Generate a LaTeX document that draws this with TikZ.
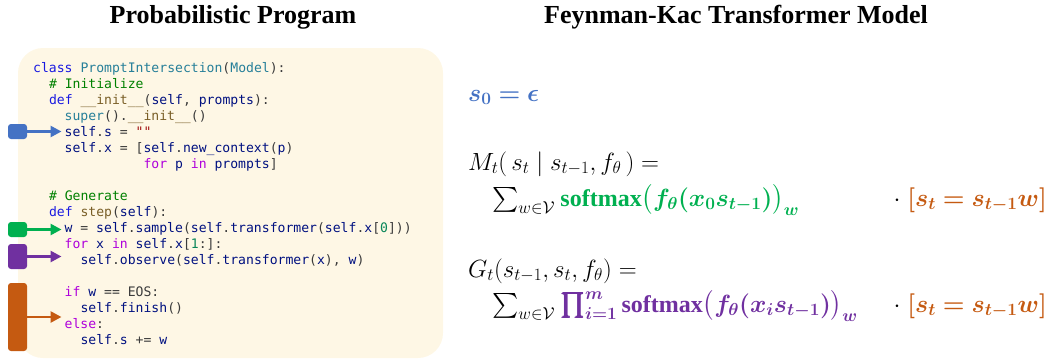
\documentclass[tikz,border=0pt]{standalone}
\usepackage{amsmath}
\usepackage{bm}
\usepackage{fontspec}
\setmainfont{Liberation Serif}
\setmonofont{DejaVu Sans Mono}
\usetikzlibrary{arrows.meta}

\definecolor{codebg}{RGB}{254,247,229}
\definecolor{punct}{RGB}{59,59,59}
\definecolor{kwblue}{RGB}{25,25,225}
\definecolor{clsteal}{RGB}{38,127,153}
\definecolor{cmtgreen}{RGB}{0,128,0}
\definecolor{fnbrown}{RGB}{121,94,38}
\definecolor{varnavy}{RGB}{0,16,128}
\definecolor{strred}{RGB}{163,21,21}
\definecolor{ctlmag}{RGB}{175,0,219}
\definecolor{numgreen}{RGB}{9,134,88}
\definecolor{mblue}{RGB}{68,114,196}
\definecolor{mgreen}{RGB}{0,176,80}
\definecolor{mpurple}{RGB}{112,48,160}
\definecolor{morange}{RGB}{197,90,17}

\newcommand{\pkw}[1]{\textcolor{kwblue}{#1}}
\newcommand{\pcls}[1]{\textcolor{clsteal}{#1}}
\newcommand{\pcmt}[1]{\textcolor{cmtgreen}{#1}}
\newcommand{\pfn}[1]{\textcolor{fnbrown}{#1}}
\newcommand{\pvar}[1]{\textcolor{varnavy}{#1}}
\newcommand{\pstr}[1]{\textcolor{strred}{#1}}
\newcommand{\pctl}[1]{\textcolor{ctlmag}{#1}}
\newcommand{\pnum}[1]{\textcolor{numgreen}{#1}}

\begin{document}
\begin{tikzpicture}
  [
    x=1pt, y=-1pt,
    title/.style =
      {anchor=base, font=\fontsize{26}{30}\selectfont\bfseries},
    code/.style =
      {anchor=base west, inner sep=0pt, text=punct, font=\fontsize{13.1}{16}\selectfont\ttfamily},
    marker/.style =
      {rectangle, rounded corners=3pt, minimum width=19pt, inner sep=0pt},
    marrow/.style =
      {-{Triangle[length=11pt, width=11pt]}, line width=2.6pt, shorten >=3pt},
    formula/.style =
      {anchor=base west, inner sep=0pt, font=\fontsize{24}{28}\selectfont}
  ]

\useasboundingbox (0,0) rectangle (1052,360);

\node[title] (ptitle) at (233,23) {Probabilistic Program};
\node[title] (ftitle) at (736,23) {Feynman-Kac Transformer Model};

\fill[codebg, rounded corners=25pt] (18,48) rectangle (443,358);

\node[code] (lclass)   at (33,72)    {\pkw{class} \pcls{PromptIntersection}(\pcls{Model}):};
\node[code] (linitc)   at (48.8,88)  {\pcmt{\# Initialize}};
\node[code] (ldefinit) at (48.8,104) {\pkw{def} \pfn{\_\_init\_\_}(\pvar{self}, \pvar{prompts}):};
\node[code] (lsuper)   at (64.5,120) {\pcls{super}().\pfn{\_\_init\_\_}()};
\node[code] (lsinit)   at (64.5,136) {\pvar{self}.\pvar{s} = \pstr{""}};
\node[code] (lxinit)   at (64.5,152) {\pvar{self}.\pvar{x} = [\pvar{self}.\pvar{new\_context}(\pvar{p})};
\node[code] (lfor)     at (143.4,168) {\pctl{for} \pvar{p} \pctl{in} \pvar{prompts}]};
\node[code] (lgenc)    at (48.8,200) {\pcmt{\# Generate}};
\node[code] (ldefstep) at (48.8,216) {\pkw{def} \pfn{step}(\pvar{self}):};
\node[code] (lsample)  at (64.5,232) {\pvar{w} = \pvar{self}.\pvar{sample}(\pvar{self}.\pvar{transformer}(\pvar{self}.\pvar{x}[\pnum{0}]))};
\node[code] (lloop)    at (64.5,248) {\pctl{for} \pvar{x} \pctl{in} \pvar{self}.\pvar{x}[\pnum{1}:]:};
\node[code] (lobserve) at (80.3,264) {\pvar{self}.\pvar{observe}(\pvar{self}.\pvar{transformer}(\pvar{x}), \pvar{w})};
\node[code] (lif)      at (64.5,296) {\pctl{if} \pvar{w} == EOS:};
\node[code] (lfinish)  at (80.3,312) {\pvar{self}.\pvar{finish}()};
\node[code] (lelse)    at (64.5,328) {\pctl{else}:};
\node[code] (lappend)  at (80.3,344) {\pvar{self}.\pvar{s} += \pvar{w}};

\node[marker, fill=mblue, minimum height=15pt] (minit) at (17.5,131.5) {};
\node[marker, fill=mgreen, minimum height=15pt] (msample) at (17.5,229.5) {};
\node[marker, fill=mpurple, minimum height=25pt] (mobserve) at (17.5,256.5) {};
\node[marker, fill=morange, minimum height=68pt] (mfinish) at (17.5,317) {};

\draw[marrow, mblue] (minit) -- (minit -| lsinit.west);
\draw[marrow, mgreen] (msample) -- (msample -| lsample.west);
\draw[marrow, mpurple] (mobserve) -- (mobserve -| lsample.west);
\draw[marrow, morange] (mfinish) -- (mfinish -| lelse.west);

\node[formula, text=mblue] (init) at (468,101) {$\boldsymbol{s_0 = \epsilon}$};

\node[formula] (mdef) at (468,170) {$M_t(\,s_t \mid s_{t-1}, f_\theta\,) =$};
\node[formula] (msum) at (492,206) {$\sum_{w\in\mathcal{V}}$};
\node[formula, text=mgreen, xshift=5pt] (mprop) at (msum.base east)
  {$\mathbf{softmax}\boldsymbol{\big(f_\theta(x_0 s_{t-1})\big)_w}$};
\node[formula, anchor=base east] (mmatch) at (1047,206)
  {$\cdot\;{\color{morange}\boldsymbol{[s_t = s_{t-1} w]}}$};

\node[formula] (gdef) at (468,277) {$G_t(s_{t-1}, s_t, f_\theta) =$};
\node[formula] (gsum) at (492,312) {$\sum_{w\in\mathcal{V}}$};
\node[formula, text=mpurple, xshift=5pt] (gprop) at (gsum.base east)
  {$\boldsymbol{\prod_{i=1}^{m}}\mathbf{softmax}\boldsymbol{\big(f_\theta(x_i s_{t-1})\big)_w}$};
\node[formula, anchor=base east] (gmatch) at (1047,312)
  {$\cdot\;{\color{morange}\boldsymbol{[s_t = s_{t-1} w]}}$};

\end{tikzpicture}
\end{document}
